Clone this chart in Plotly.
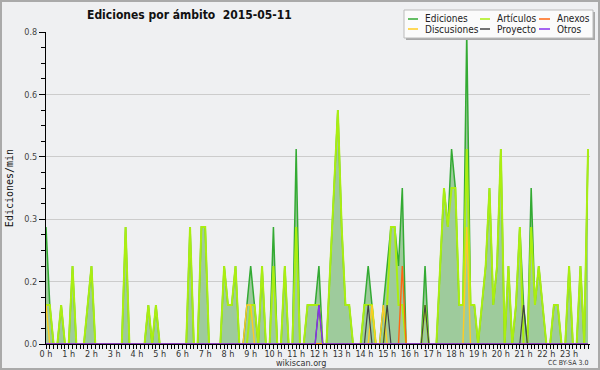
import plotly.graph_objects as go

# ---------------- data (edits per minute, 10-minute slots) ----------------
slot_minutes = [i * 10 for i in range(144)]

ediciones = [
    0.3, 0.1, 0, 0, 0.1, 0,        # 0 h
    0, 0.2, 0, 0, 0, 0.1,          # 1 h
    0.2, 0, 0, 0, 0, 0,            # 2 h
    0, 0, 0, 0.3, 0, 0,            # 3 h
    0, 0, 0, 0.1, 0, 0.1,          # 4 h
    0, 0, 0, 0, 0, 0,              # 5 h
    0, 0, 0.3, 0, 0, 0.3,          # 6 h
    0.3, 0, 0, 0, 0, 0.2,          # 7 h
    0.1, 0.1, 0.2, 0, 0, 0.1,      # 8 h
    0.2, 0.1, 0, 0.2, 0, 0,        # 9 h
    0.3, 0, 0, 0.2, 0, 0,          # 10 h
    0.5, 0, 0, 0.1, 0.1, 0.1,      # 11 h
    0.2, 0, 0, 0.2, 0.4, 0.6,      # 12 h
    0.3, 0.1, 0.1, 0, 0, 0,        # 13 h
    0.1, 0.2, 0.1, 0, 0, 0.1,      # 14 h
    0.2, 0.3, 0.3, 0.2, 0.4, 0,    # 15 h
    0, 0, 0, 0, 0.2, 0,            # 16 h
    0, 0, 0.2, 0.4, 0.3, 0.5,      # 17 h
    0.4, 0.1, 0.1, 0.8, 0.1, 0.1,  # 18 h
    0, 0.1, 0.2, 0.4, 0.1, 0.2,    # 19 h
    0.5, 0, 0.2, 0, 0.1, 0.3,      # 20 h
    0.1, 0, 0.4, 0.1, 0.2, 0.1,    # 21 h
    0, 0, 0.1, 0.1, 0, 0,          # 22 h
    0.2, 0, 0, 0.2, 0, 0.5,        # 23 h
]

articulos = [
    0.1, 0.1, 0, 0, 0.1, 0,
    0, 0.2, 0, 0, 0, 0.1,
    0.2, 0, 0, 0, 0, 0,
    0, 0, 0, 0.3, 0, 0,
    0, 0, 0, 0.1, 0, 0.1,
    0, 0, 0, 0, 0, 0,
    0, 0, 0.3, 0, 0, 0.3,
    0.3, 0, 0, 0, 0, 0.2,
    0.1, 0.1, 0.2, 0, 0, 0,
    0.1, 0.1, 0, 0.2, 0, 0,
    0.2, 0, 0, 0.2, 0, 0,
    0.3, 0, 0, 0.1, 0.1, 0.1,
    0.1, 0, 0, 0.2, 0.4, 0.6,
    0.3, 0.1, 0.1, 0, 0, 0,
    0.1, 0.1, 0.1, 0, 0, 0,
    0.1, 0.3, 0.3, 0.1, 0.1, 0,
    0, 0, 0, 0, 0.1, 0,
    0, 0, 0.2, 0.4, 0.3, 0.4,
    0.4, 0.1, 0.1, 0.5, 0.1, 0.1,
    0, 0.1, 0.2, 0.4, 0.1, 0.2,
    0.5, 0, 0.2, 0, 0.1, 0.3,
    0, 0, 0.3, 0.1, 0.2, 0.1,
    0, 0, 0.1, 0.1, 0, 0,
    0.2, 0, 0, 0.2, 0, 0.5,
]

discusiones = [0.0] * 144
for idx, v in [(0, 0.1), (53, 0.1), (54, 0.1), (86, 0.1), (89, 0.1), (111, 0.3)]:
    discusiones[idx] = v

anexos = [0.0] * 144
for idx, v in [(94, 0.2)]:
    anexos[idx] = v

proyecto = [0.0] * 144
for idx, v in [(72, 0.1), (85, 0.1), (90, 0.1), (100, 0.1), (126, 0.1)]:
    proyecto[idx] = v

otros = [0.0] * 144
for idx, v in [(72, 0.1)]:
    otros[idx] = v

hour_ticks = list(range(24))
hour_labels = [f"{h} h" for h in hour_ticks]
y_ticks = [0, 0.16, 0.32, 0.48, 0.64, 0.8]
y_labels = ["0.0", "0.2", "0.3", "0.5", "0.6", "0.8"]

legend_rows = [
    [("Ediciones", "#33aa33"), ("Artículos", "#aaee11"), ("Anexos", "#ff6611")],
    [("Discusiones", "#ffcc22"), ("Proyecto", "#444444"), ("Otros", "#8833ee")],
]

# ---------------- figure ----------------
x_hours = [m / 60 for m in slot_minutes]
FONT = "DejaVu Sans Condensed, Liberation Sans Narrow, DejaVu Sans"

L, R, T, B = 46, 10, 32, 26
W, H = 600, 370
PW, PH = W - L - R, H - T - B


def px(x):
    return (x - L) / PW


def py(y):
    return (H - B - y) / PH


fig = go.Figure()
fig.add_trace(go.Scatter(x=x_hours, y=ediciones, mode="lines", name="Ediciones",
                         line=dict(color="#33aa33", width=1.5), fill="tozeroy",
                         fillcolor="#9ecb9c", showlegend=False))
fig.add_trace(go.Scatter(x=x_hours, y=articulos, mode="lines", name="Artículos",
                         line=dict(color="#aaee11", width=2), showlegend=False))
fig.add_trace(go.Scatter(x=x_hours, y=discusiones, mode="lines", name="Discusiones",
                         line=dict(color="#ffcc22", width=1.4), showlegend=False))
fig.add_trace(go.Scatter(x=x_hours, y=anexos, mode="lines", name="Anexos",
                         line=dict(color="#ff6611", width=1.4), showlegend=False))
fig.add_trace(go.Scatter(x=x_hours, y=proyecto, mode="lines", name="Proyecto",
                         line=dict(color="#444444", width=1.2), showlegend=False))
fig.add_trace(go.Scatter(x=x_hours, y=otros, mode="lines", name="Otros",
                         line=dict(color="#8833ee", width=1.4), showlegend=False))

fig.update_xaxes(range=[0, 23.92], tickvals=hour_ticks, ticktext=hour_labels,
                 ticks="outside", ticklen=4, tickcolor="#000", showline=True,
                 linecolor="#000", linewidth=1, showgrid=False, zeroline=False,
                 automargin=False, ticklabelstandoff=-3,
                 tickfont=dict(family=FONT, size=9, color="#333"),
                 minor=dict(dtick=1 / 6, tick0=0, ticks="outside", ticklen=4,
                            tickcolor="#000", showgrid=False))
fig.update_yaxes(range=[0, 0.8], tickvals=y_ticks, ticktext=y_labels,
                 ticks="outside", ticklen=6, tickcolor="#000", showline=True,
                 linecolor="#000", linewidth=1, showgrid=True, gridcolor="#cccccc",
                 zeroline=False, automargin=False,
                 tickfont=dict(family=FONT, size=9, color="#444"),
                 minor=dict(dtick=0.04, tick0=0, ticks="outside", ticklen=4,
                            tickcolor="#000", showgrid=False),
                 title=dict(text="Ediciones/min", standoff=8,
                            font=dict(family="DejaVu Sans Mono", size=10, color="#111")))

shapes = []
annotations = []
# outer frame
shapes.append(dict(type="rect", xref="paper", yref="paper", x0=px(1), x1=px(599),
                   y0=py(369), y1=py(1), line=dict(color="#aaaaaa", width=2),
                   fillcolor="rgba(0,0,0,0)", layer="above"))
# legend box (shadow + box)
shapes.append(dict(type="rect", xref="paper", yref="paper", x0=px(406), x1=px(595),
                   y0=py(40), y1=py(12), line=dict(width=0), fillcolor="#a8a8a8",
                   layer="above"))
shapes.append(dict(type="rect", xref="paper", yref="paper", x0=px(404), x1=px(593),
                   y0=py(38), y1=py(10), line=dict(color="#bbbbbb", width=1),
                   fillcolor="#fbfbfb", layer="above"))
col_line_x = [(408, 418), (480, 490), (539, 550)]
col_text_x = [423, 495, 555]
row_y = [19, 29]
for r, row in enumerate(legend_rows):
    for c, (name, color) in enumerate(row):
        x0, x1 = col_line_x[c]
        shapes.append(dict(type="line", xref="paper", yref="paper", x0=px(x0), x1=px(x1),
                           y0=py(row_y[r]), y1=py(row_y[r]),
                           line=dict(color=color, width=1.5), layer="above"))
        annotations.append(dict(text=name, xref="paper", yref="paper", x=px(col_text_x[c]),
                                y=py(row_y[r]), xanchor="left", yanchor="middle",
                                showarrow=False, font=dict(family=FONT, size=10, color="#222")))

annotations.append(dict(text="<b>Ediciones por ámbito  2015-05-11</b>", xref="paper",
                        yref="paper", x=px(85), y=py(15), xanchor="left", yanchor="middle",
                        showarrow=False, font=dict(family=FONT, size=12, color="#111")))
annotations.append(dict(text="wikiscan.org", xref="paper", yref="paper", x=px(301),
                        y=py(362.5), xanchor="center", yanchor="middle", showarrow=False,
                        font=dict(family=FONT, size=9, color="#333")))
annotations.append(dict(text="CC BY-SA 3.0", xref="paper", yref="paper", x=px(590),
                        y=py(362.5), xanchor="right", yanchor="middle", showarrow=False,
                        font=dict(family=FONT, size=7, color="#333")))

fig.update_layout(width=W, height=H, margin=dict(l=L, r=R, t=T, b=B, pad=0, autoexpand=False),
                  paper_bgcolor="#eff0f2", plot_bgcolor="#eff0f2",
                  showlegend=False, shapes=shapes, annotations=annotations)

fig.write_html("out.html", config={"displayModeBar": False},
               post_script="document.body.style.margin='0';")
